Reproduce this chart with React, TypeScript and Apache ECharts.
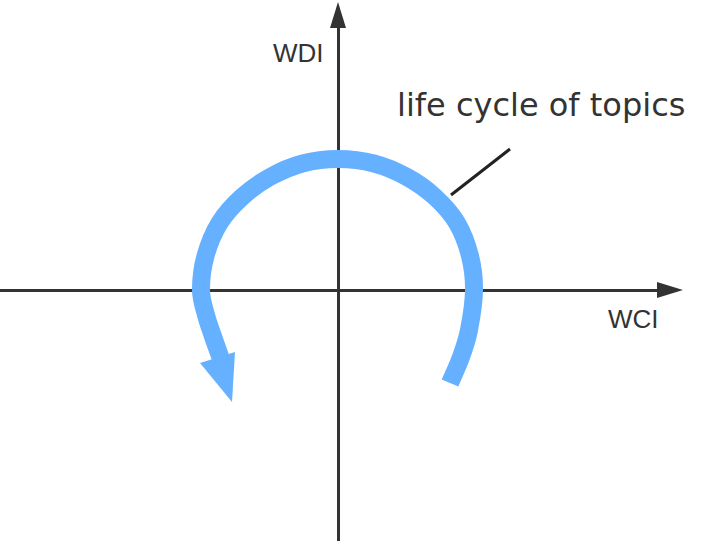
import React, { useEffect, useRef } from "react";
import * as echarts from "echarts";

// Axis extents (abstract units, origin at the crossing of the axes)
const xRange = [-33.8, 33.2];
const yRange = [-25.1, 27.5];

// Life-cycle arc centerline (right tail -> left arrow)
const arcX = [11.2, 12.3, 13.1, 13.6, 13.2, 11.9, 9.7, 6.9, 3.6, 0, -3.55, -6.8, -9.6, -11.85, -13.25, -13.7, -13.2, -12.55, -11.95, -11.7];
const arcY = [-9.3, -6.7, -4.0, 0, 3.4, 6.7, 9.3, 11.3, 12.65, 13.1, 12.65, 11.3, 9.3, 6.7, 3.4, 0, -2.5, -4.5, -6.2, -6.9];

// Arrow head triangle
const headX = [-13.8, -10.3, -10.6];
const headY = [-7.3, -6.2, -11.2];

// Leader line from the arc to the annotation
const leaderX = [11.3, 17.2];
const leaderY = [9.5, 14.1];

const xName = "WCI";
const yName = "WDI";
const annotation = "life cycle of topics";

const BLUE = "#66b1ff";
const DARK = "#333333";

function smoothPath(pts: number[][]): string {
  // Catmull-Rom spline through the projected points, as cubic Béziers
  let d = `M${pts[0][0]},${pts[0][1]}`;
  for (let i = 0; i < pts.length - 1; i++) {
    const p0 = pts[Math.max(0, i - 1)];
    const p1 = pts[i];
    const p2 = pts[i + 1];
    const p3 = pts[Math.min(pts.length - 1, i + 2)];
    const c1 = [p1[0] + (p2[0] - p0[0]) / 6, p1[1] + (p2[1] - p0[1]) / 6];
    const c2 = [p2[0] - (p3[0] - p1[0]) / 6, p2[1] - (p3[1] - p1[1]) / 6];
    d += ` C${c1[0]},${c1[1]} ${c2[0]},${c2[1]} ${p2[0]},${p2[1]}`;
  }
  return d;
}

export default function App() {
  const ref = useRef<HTMLDivElement>(null);

  useEffect(() => {
    if (!ref.current) return;
    const chart = echarts.init(ref.current, null, { renderer: "svg" });
    const axisCommon = {
      type: "value" as const,
      axisLabel: { show: false },
      axisTick: { show: false },
      splitLine: { show: false },
      axisLine: {
        show: true,
        onZero: true,
        symbol: ["none", "triangle"],
        symbolSize: [16, 26],
        lineStyle: { color: DARK, width: 3 },
      },
    };
    chart.setOption({
      animation: false,
      backgroundColor: "#ffffff",
      grid: { left: 0, right: 38, top: 15, bottom: 0 },
      xAxis: { ...axisCommon, min: xRange[0], max: xRange[1] },
      yAxis: { ...axisCommon, min: yRange[0], max: yRange[1] },
      series: [
        {
          type: "line",
          data: leaderX.map((x, i) => [x, leaderY[i]]),
          symbol: "none",
          lineStyle: { color: "#222222", width: 3 },
          z: 2,
        },
        {
          type: "custom",
          data: [[arcX[0], arcY[0]]],
          z: 3,
          renderItem: (_params: any, api: any) => {
            const pts = arcX.map((x, i) => api.coord([x, arcY[i]]));
            return {
              type: "path",
              shape: { pathData: smoothPath(pts) },
              style: {
                fill: "none",
                stroke: BLUE,
                lineWidth: 18,
                lineCap: "butt",
                lineJoin: "round",
              },
            };
          },
        },
        {
          type: "custom",
          data: [[headX[0], headY[0]]],
          z: 4,
          renderItem: (_params: any, api: any) => ({
            type: "polygon",
            shape: { points: headX.map((x, i) => api.coord([x, headY[i]])) },
            style: { fill: BLUE },
          }),
        },
      ],
      graphic: [
        {
          type: "text",
          x: 397,
          y: 105,
          z: 10,
          style: {
            text: annotation,
            fill: DARK,
            font: '32px "DejaVu Sans", sans-serif',
            align: "left",
            verticalAlign: "middle",
          },
        },
        {
          type: "text",
          x: 273,
          y: 53,
          z: 10,
          style: {
            text: yName,
            fill: DARK,
            font: '26px "Liberation Sans", Arial, sans-serif',
            align: "left",
            verticalAlign: "middle",
          },
        },
        {
          type: "text",
          x: 608,
          y: 319,
          z: 10,
          style: {
            text: xName,
            fill: DARK,
            font: '26px "Liberation Sans", Arial, sans-serif',
            align: "left",
            verticalAlign: "middle",
          },
        },
      ],
    });
    return () => chart.dispose();
  }, []);

  return (
    <div
      ref={ref}
      style={{ position: "absolute", left: 0, top: 0, width: 708, height: 541 }}
    />
  );
}
